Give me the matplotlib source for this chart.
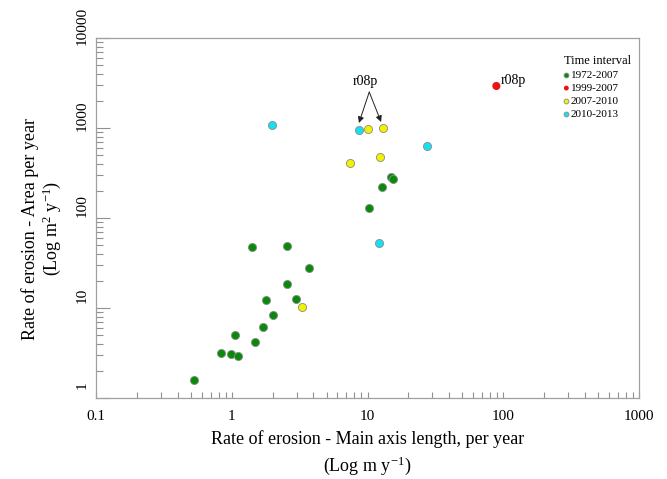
import matplotlib
matplotlib.use("Agg")
import matplotlib.pyplot as plt
from matplotlib.transforms import ScaledTranslation

plt.rcParams['font.family'] = ['Liberation Serif', 'DejaVu Serif']
plt.rcParams['mathtext.fontset'] = 'custom'
plt.rcParams['mathtext.rm'] = 'Liberation Serif'
plt.rcParams['mathtext.it'] = 'Liberation Serif:italic'

# Datos por intervalo de tiempo (x: longitud eje principal, y: area)
green_x = [0.53, 0.84, 0.99, 1.12, 1.05, 1.49, 1.69, 1.80, 2.00, 2.55,
           2.96, 1.40, 2.55, 3.70, 10.3, 12.8, 15.0, 15.3]
green_y = [1.57, 3.2, 3.1, 2.9, 5.0, 4.2, 6.2, 12.2, 8.3, 18.6,
           12.7, 48, 49, 28, 130, 220, 288, 268]
red_x = [89]
red_y = [2930]
yellow_x = [3.3, 7.4, 12.4, 10.0, 12.9]
yellow_y = [10.2, 410, 480, 975, 1000]
cyan_x = [1.98, 8.6, 27.3, 12.2]
cyan_y = [1090, 940, 630, 53]

labels = ["1972-2007", "1999-2007", "2007-2010", "2010-2013"]
colors = ["#0a8a0a", "#ee1111", "#f2f200", "#14e0f0"]

fig = plt.figure(figsize=(6.67, 4.79), dpi=100)
ax = fig.add_axes([96/667, 1 - 398/479, 543/667, 360/479])

series = [(green_x, green_y), (red_x, red_y), (yellow_x, yellow_y), (cyan_x, cyan_y)]
for (xs, ys), lab, col in zip(series, labels, colors):
    if lab == "1999-2007":
        ax.scatter(xs, ys, s=34, c=col, edgecolors="none", label=lab, zorder=3)
    else:
        ax.scatter(xs, ys, s=34, c=col, edgecolors="#8a8a8a", linewidths=0.6,
                   label=lab, zorder=3)

ax.set_xscale("log")
ax.set_yscale("log")
ax.set_xlim(0.1, 1000)
ax.set_ylim(1, 10000)
ax.set_xticks([0.1, 1, 10, 100, 1000])
ax.set_xticklabels(["0.1", "1", "10", "100", "1000"])
ax.set_yticks([1, 10, 100, 1000, 10000])
ax.set_yticklabels(["1", "10", "100", "1000", "10000"])

for s in ax.spines.values():
    s.set_color("#a0a0a0")
    s.set_linewidth(0.9)

ax.tick_params(axis="both", which="both", direction="in", color="#909090",
               labelsize=11, width=0.8)
ax.tick_params(axis="x", which="major", length=4.5, pad=9)
ax.tick_params(axis="x", which="minor", length=4)
ax.tick_params(axis="y", which="major", length=10, pad=5)
ax.tick_params(axis="y", which="minor", length=5)
ax.tick_params(top=False, right=False, which="both")

for lab in ax.get_yticklabels():
    lab.set_rotation(90)
    lab.set_va("center")
    lab.set_transform(lab.get_transform() + ScaledTranslation(0, 9/72, fig.dpi_scale_trans))

ax.set_xlabel("Rate of erosion - Main axis length, per year\n(Log m y$^{-1}$)",
              fontsize=13, linespacing=1.4)
ax.xaxis.set_label_coords(0.5, -0.09)
ax.set_ylabel("Rate of erosion - Area per year\n(Log m$^{2}$ y$^{-1}$)",
              fontsize=13, linespacing=1.1)
ax.yaxis.set_label_coords(-0.06, 0.47)

# Anotaciones
ax.text(9.6, 3245, "r08p", fontsize=10, ha="center", va="center")
for tx, ty in [(8.65, 1137), (12.6, 1166)]:
    ax.annotate("", xy=(tx, ty), xytext=(10.3, 2510),
                arrowprops=dict(arrowstyle="-|>", color="#222222", lw=0.7,
                                mutation_scale=9, shrinkA=0, shrinkB=0))
ax.annotate("r08p", xy=(red_x[0], red_y[0]), xytext=(3, 4),
            textcoords="offset points", fontsize=10, ha="left", va="center")

leg = ax.legend(title="Time interval", loc="upper right",
                bbox_to_anchor=(1.0, 0.975), frameon=False, fontsize=8,
                title_fontsize=9, markerscale=0.6, handlelength=0.4,
                handletextpad=0.2, labelspacing=0.3, borderaxespad=0.3)
leg._legend_box.align = "left"

plt.savefig("out.png", dpi=100)
plt.close()
